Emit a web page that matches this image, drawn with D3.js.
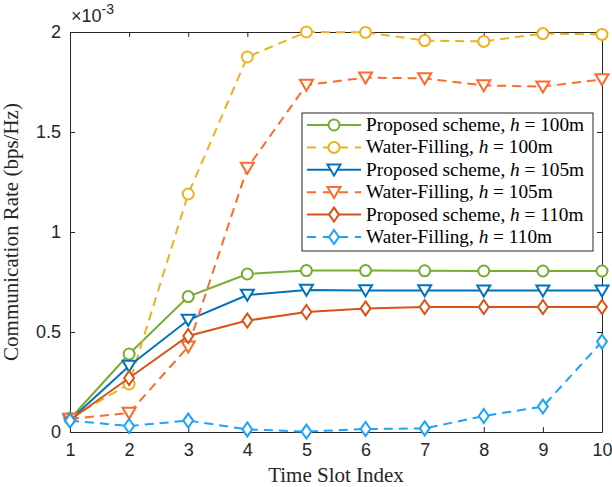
<!DOCTYPE html>
<html>
<head>
<meta charset="utf-8">
<script src="https://cdn.jsdelivr.net/npm/d3@7"></script>
<style>
  body { margin: 0; background: #fff; }
  svg { display: block; }
  .tick text { font-family: "Liberation Sans", Arial, sans-serif; font-size: 18px; fill: #262626; }
</style>
</head>
<body>
<div id="chart"></div>
<script>
// data (communication rate, x 1e-3)
var slots = [1, 2, 3, 4, 5, 6, 7, 8, 9, 10];
var propH100 = [0.065, 0.39, 0.677, 0.79, 0.807, 0.807, 0.806, 0.805, 0.805, 0.805];
var waterH100 = [0.07, 0.24, 1.19, 1.875, 2.0, 1.998, 1.957, 1.953, 1.992, 1.988];
var propH105 = [0.06, 0.33, 0.56, 0.685, 0.71, 0.708, 0.708, 0.707, 0.707, 0.707];
var waterH105 = [0.065, 0.095, 0.427, 1.32, 1.735, 1.772, 1.768, 1.733, 1.727, 1.763];
var propH110 = [0.06, 0.27, 0.48, 0.557, 0.60, 0.618, 0.625, 0.625, 0.625, 0.625];
var waterH110 = [0.057, 0.03, 0.057, 0.013, 0.002, 0.015, 0.018, 0.08, 0.127, 0.452];
var yTicks = [0, 0.5, 1, 1.5, 2];

var series = [
  { name: "Proposed scheme, ", h: "100m", values: propH100, color: "#77AC30", dash: null, marker: "circle" },
  { name: "Water-Filling, ", h: "100m", values: waterH100, color: "#EDB120", dash: "9,6", marker: "circle" },
  { name: "Proposed scheme, ", h: "105m", values: propH105, color: "#0072BD", dash: null, marker: "tri" },
  { name: "Water-Filling, ", h: "105m", values: waterH105, color: "#FF6929", dash: "9,6", marker: "tri" },
  { name: "Proposed scheme, ", h: "110m", values: propH110, color: "#D95319", dash: null, marker: "diamond" },
  { name: "Water-Filling, ", h: "110m", values: waterH110, color: "#1AA3FF", dash: "9,6", marker: "diamond" }
];

var svgWidth = 612;
var svgHeight = 487;
var margin = { top: 32, right: 10, bottom: 55, left: 70 };
var width = 602 - margin.left;
var height = 432 - margin.top;

var svg = d3.select("#chart").append("svg")
  .attr("width", svgWidth)
  .attr("height", svgHeight);

var chartGroup = svg.append("g")
  .attr("transform", `translate(${margin.left}, ${margin.top})`);

var xScale = d3.scaleLinear().domain([1, 10]).range([0, width]);
var yScale = d3.scaleLinear().domain([0, 2]).range([height, 0]);

// axes, ticks pointing inward like matlab
var bottomAxis = d3.axisBottom(xScale).tickValues(slots).tickSizeInner(-5).tickSizeOuter(0).tickPadding(11);
var leftAxis = d3.axisLeft(yScale).tickValues(yTicks).tickSizeInner(-5).tickSizeOuter(0).tickPadding(9)
  .tickFormat(d3.format("~g"));
var topAxis = d3.axisTop(xScale).tickValues(slots).tickSizeInner(-5).tickSizeOuter(0).tickFormat("");
var rightAxis = d3.axisRight(yScale).tickValues(yTicks).tickSizeInner(-5).tickSizeOuter(0).tickFormat("");

chartGroup.append("g").attr("transform", `translate(0, ${height})`).call(bottomAxis);
chartGroup.append("g").call(leftAxis);
chartGroup.append("g").call(topAxis);
chartGroup.append("g").attr("transform", `translate(${width}, 0)`).call(rightAxis);

chartGroup.selectAll(".domain").attr("stroke", "#262626").attr("stroke-width", 1);
chartGroup.selectAll(".tick line").attr("stroke", "#262626");

// exponent label
var expo = chartGroup.append("text")
  .attr("x", 1)
  .attr("y", -10)
  .attr("font-family", "Liberation Sans, Arial, sans-serif")
  .attr("font-size", 18)
  .attr("fill", "#262626");
expo.append("tspan").text("\u00d710");
expo.append("tspan").attr("dy", -8).attr("font-size", 14).text("-3");

// axis labels
svg.append("text")
  .attr("x", margin.left + width / 2)
  .attr("y", 482)
  .attr("text-anchor", "middle")
  .attr("font-family", "Liberation Serif, Times New Roman, serif")
  .attr("font-size", 21)
  .attr("fill", "#262626")
  .text("Time Slot Index");

svg.append("text")
  .attr("transform", `translate(18, ${margin.top + height / 2}) rotate(-90)`)
  .attr("text-anchor", "middle")
  .attr("font-family", "Liberation Serif, Times New Roman, serif")
  .attr("font-size", 21)
  .attr("fill", "#262626")
  .text("Communication Rate (bps/Hz)");

// marker drawing helper
function drawMarker(g, type, cx, cy, color) {
  if (type === "circle") {
    g.append("circle").attr("cx", cx).attr("cy", cy).attr("r", 5.5)
      .attr("fill", "#fff").attr("stroke", color).attr("stroke-width", 2);
  } else if (type === "tri") {
    var s = 6.5;
    g.append("path")
      .attr("d", `M${cx - s},${cy - s * 0.8} L${cx + s},${cy - s * 0.8} L${cx},${cy + s * 0.9} Z`)
      .attr("fill", "#fff").attr("stroke", color).attr("stroke-width", 2);
  } else {
    var r = 7;
    g.append("path")
      .attr("d", `M${cx},${cy - r} L${cx + r * 0.7},${cy} L${cx},${cy + r} L${cx - r * 0.7},${cy} Z`)
      .attr("fill", "#fff").attr("stroke", color).attr("stroke-width", 2);
  }
}

var line = d3.line()
  .x((d, i) => xScale(slots[i]))
  .y(d => yScale(d));

series.forEach(function(s) {
  var g = chartGroup.append("g");
  g.append("path")
    .datum(s.values)
    .attr("d", line)
    .attr("fill", "none")
    .attr("stroke", s.color)
    .attr("stroke-width", 2)
    .attr("stroke-dasharray", s.dash);
  s.values.forEach(function(v, i) {
    drawMarker(g, s.marker, xScale(slots[i]), yScale(v), s.color);
  });
});

// legend
var legend = svg.append("g").attr("transform", "translate(302, 113)");
legend.append("rect")
  .attr("width", 291)
  .attr("height", 138)
  .attr("fill", "#fff")
  .attr("stroke", "#262626")
  .attr("stroke-width", 1);

series.forEach(function(s, i) {
  var y = 12 + i * 22.4;
  var row = legend.append("g");
  row.append("line")
    .attr("x1", 5).attr("x2", 59).attr("y1", y).attr("y2", y)
    .attr("stroke", s.color).attr("stroke-width", 2)
    .attr("stroke-dasharray", s.dash ? "9,7" : null);
  drawMarker(row, s.marker, 32, y, s.color);
  var t = row.append("text")
    .attr("x", 64)
    .attr("y", y + 6)
    .attr("font-family", "Liberation Serif, Times New Roman, serif")
    .attr("font-size", 19.3)
    .attr("fill", "#000");
  t.append("tspan").text(s.name);
  t.append("tspan").attr("font-style", "italic").text("h");
  t.append("tspan").text(" = " + s.h);
});
</script>
</body>
</html>
